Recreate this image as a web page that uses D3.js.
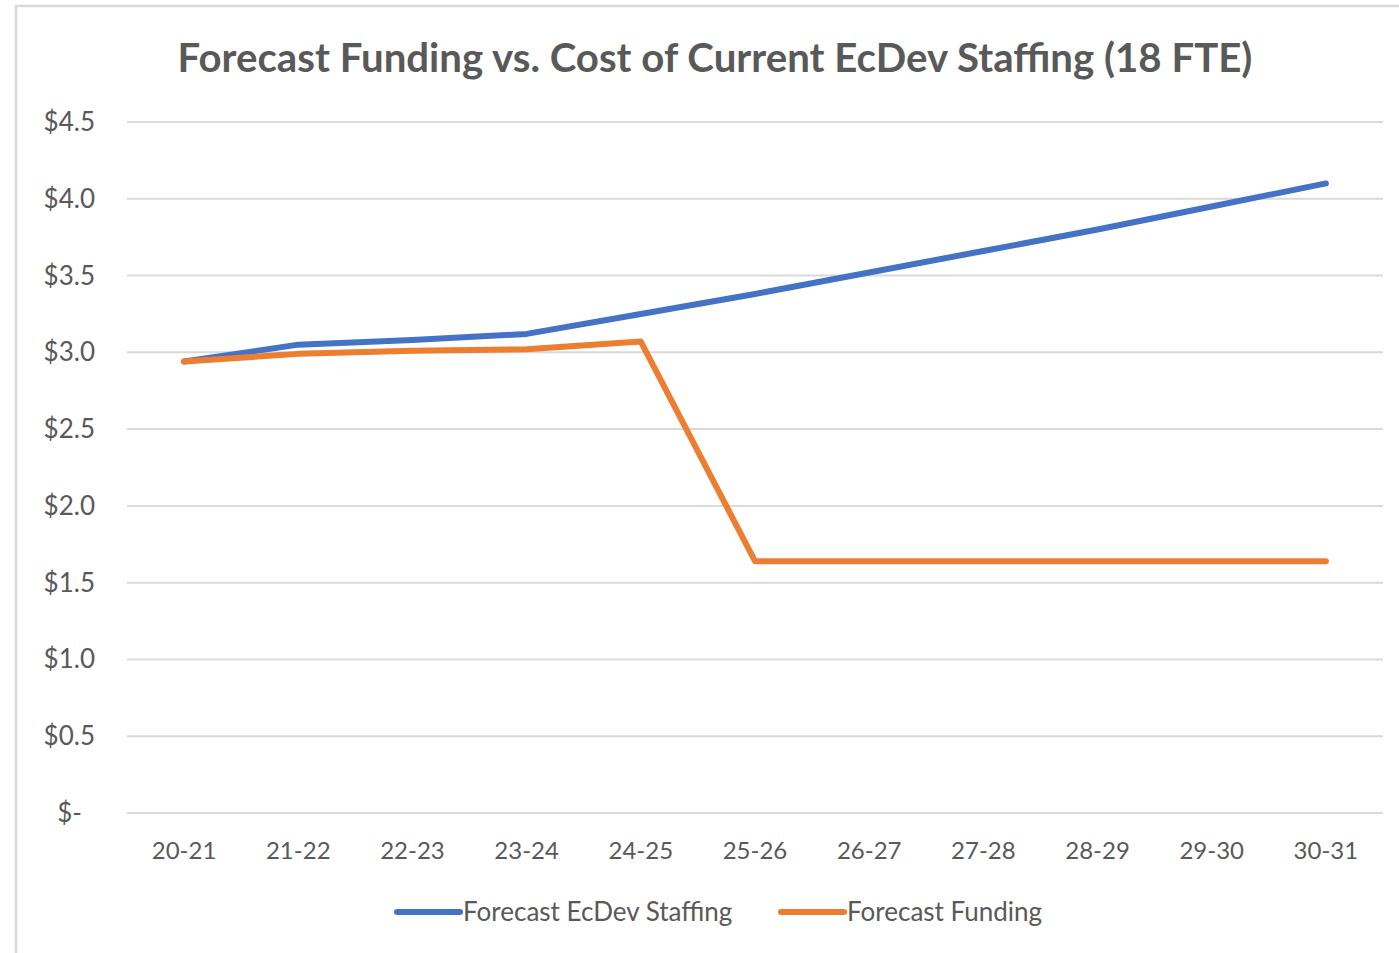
<!DOCTYPE html>
<html>
<head>
<meta charset="utf-8">
<script src="https://cdn.jsdelivr.net/npm/d3@7"></script>
<style>
  body { margin: 0; background: #fff; }
  text { font-family: Lato, "Open Sans", sans-serif; fill: #595959; }
</style>
</head>
<body>
<svg id="chart" width="1399" height="953"></svg>
<script>
var years = ['20-21', '21-22', '22-23', '23-24', '24-25', '25-26', '26-27', '27-28', '28-29', '29-30', '30-31'];
var staffing = [2.94, 3.05, 3.08, 3.12, 3.25, 3.38, 3.52, 3.66, 3.80, 3.95, 4.10];
var funding = [2.94, 2.99, 3.01, 3.02, 3.07, 1.64, 1.64, 1.64, 1.64, 1.64, 1.64];
var yTicks = [0, 0.5, 1, 1.5, 2, 2.5, 3, 3.5, 4, 4.5];
var seriesNames = ['Forecast EcDev Staffing', 'Forecast Funding'];
var colors = ['#4472c4', '#ed7d31'];

var svg = d3.select('#chart');

// chart frame (only top and left edges show in the picture)
svg.append('path')
  .attr('d', 'M16,960 V6 H1410')
  .attr('fill', 'none')
  .attr('stroke', '#d9d9d9')
  .attr('stroke-width', 2.5);

var x = d3.scalePoint()
  .domain(years)
  .range([127, 1383])
  .padding(0.5);

var y = d3.scaleLinear()
  .domain([0, 4.5])
  .range([813, 122]);

// gridlines
svg.append('g')
  .selectAll('line')
  .data(yTicks)
  .enter()
    .append('line')
    .attr('x1', 127)
    .attr('x2', 1383)
    .attr('y1', d => y(d))
    .attr('y2', d => y(d))
    .attr('stroke', '#d9d9d9')
    .attr('stroke-width', 2);

// y labels
svg.append('g')
  .selectAll('text')
  .data(yTicks)
  .enter()
    .append('text')
    .attr('x', d => d === 0 ? 82 : 95)
    .attr('y', d => y(d) + 9)
    .attr('text-anchor', 'end')
    .style('font-size', '26px')
    .text(d => d === 0 ? '$-' : '$' + d.toFixed(1));

// x labels
svg.append('g')
  .selectAll('text')
  .data(years)
  .enter()
    .append('text')
    .attr('x', d => x(d))
    .attr('y', 859)
    .attr('text-anchor', 'middle')
    .style('font-size', '24px')
    .text(d => d);

// lines
var line = d3.line()
  .x((d, i) => x(years[i]))
  .y(d => y(d));

svg.append('g')
  .selectAll('path')
  .data([staffing, funding])
  .enter()
    .append('path')
    .attr('d', d => line(d))
    .attr('fill', 'none')
    .attr('stroke', (d, i) => colors[i])
    .attr('stroke-width', 6)
    .attr('stroke-linecap', 'round')
    .attr('stroke-linejoin', 'round');

// title, sized to fill the same width as the original
var title = svg.append('text')
  .attr('x', 715)
  .attr('y', 72)
  .attr('text-anchor', 'middle')
  .style('font-size', '38px')
  .style('font-weight', 'bold')
  .text('Forecast Funding vs. Cost of Current EcDev Staffing (18 FTE)');
var tw = title.node().getComputedTextLength();
title.style('font-size', (38 * 1075 / tw) + 'px');

// legend
var legendX = [397, 781];
var legend = svg.append('g')
  .selectAll('g')
  .data(seriesNames)
  .enter()
    .append('g')
    .attr('transform', (d, i) => 'translate(' + legendX[i] + ', 912)');

legend.append('line')
  .attr('x1', 0)
  .attr('x2', 63)
  .attr('stroke', (d, i) => colors[i])
  .attr('stroke-width', 6)
  .attr('stroke-linecap', 'round');

legend.append('text')
  .attr('x', 66)
  .attr('y', 9)
  .style('font-size', '26px')
  .text(d => d);
</script>
</body>
</html>
